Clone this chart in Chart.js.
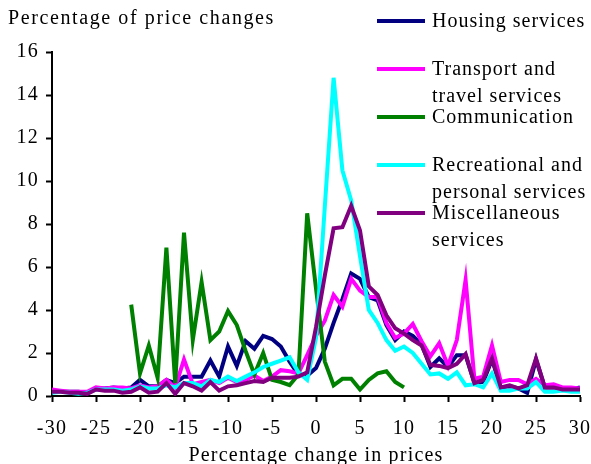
<!DOCTYPE html>
<html>
<head>
<meta charset="utf-8">
<script src="https://cdn.jsdelivr.net/npm/chart.js@4.4.0/dist/chart.umd.min.js"></script>
<style>
  html, body { margin: 0; padding: 0; background: #fff; }
  #wrap { position: relative; width: 591px; height: 464px; }
</style>
</head>
<body>
<div id="wrap"><canvas id="priceChart"></canvas></div>
<script>
// percentage change in prices (x axis)
const priceChange = [-30, -29, -28, -27, -26, -25, -24, -23, -22, -21, -20, -19, -18, -17, -16, -15, -14, -13, -12, -11,
  -10, -9, -8, -7, -6, -5, -4, -3, -2, -1, 0, 1, 2, 3, 4, 5, 6, 7, 8, 9,
  10, 11, 12, 13, 14, 15, 16, 17, 18, 19, 20, 21, 22, 23, 24, 25, 26, 27, 28, 29, 30]

const housing = [0.25, 0.2, 0.2, 0.2, 0.15, 0.35, 0.35, 0.4, 0.35, 0.4, 0.75, 0.45, 0.45, 0.75, 0.6, 0.9, 0.9, 0.9, 1.65, 0.9,
  2.3, 1.4, 2.55, 2.2, 2.8, 2.65, 2.3, 1.6, 1.0, 0.95, 1.3, 2.2, 3.4, 4.5, 5.7, 5.45, 4.6, 4.45, 3.3, 2.6,
  3.0, 2.8, 2.4, 1.35, 1.75, 1.35, 1.9, 1.9, 0.6, 0.65, 1.7, 0.4, 0.45, 0.35, 0.15, 1.7, 0.4, 0.4, 0.3, 0.3, 0.4]

const transport = [0.3, 0.25, 0.2, 0.2, 0.2, 0.4, 0.35, 0.4, 0.4, 0.35, 0.5, 0.4, 0.45, 0.75, 0.4, 1.7, 0.55, 0.65, 0.75, 0.6,
  0.85, 0.65, 0.75, 0.95, 0.7, 0.9, 1.2, 1.15, 1.05, 1.9, 2.8, 3.5, 4.7, 4.15, 5.45, 4.9, 4.6, 4.6, 3.4, 2.7,
  2.9, 3.35, 2.55, 1.85, 2.45, 1.4, 2.6, 5.4, 0.8, 0.9, 2.35, 0.65, 0.75, 0.75, 0.55, 0.8, 0.5, 0.55, 0.4, 0.4, 0.35]

const communication = [null, null, null, null, null, null, null, null, null, 4.25, 1.05, 2.35, 0.85, 6.9, 0.6, 7.6, 2.6, 5.3, 2.6, 3.0,
  3.95, 3.3, 2.1, 1.0, 2.0, 0.75, 0.65, 0.5, 1.0, 8.5, 5.0, 1.6, 0.5, 0.8, 0.8, 0.3, 0.75, 1.05, 1.15, 0.65,
  0.4, null, null, null, null, null, null, null, null, null, null, null, null, null, null, null, null, null, null, null, null]

const recreational = [0.15, 0.2, 0.15, 0.1, 0.15, 0.3, 0.3, 0.3, 0.25, 0.3, 0.45, 0.35, 0.35, 0.5, 0.4, 0.6, 0.6, 0.45, 0.75, 0.65,
  0.9, 0.7, 0.9, 1.1, 1.35, 1.5, 1.65, 1.8, 1.1, 0.75, 2.7, 8.8, 14.8, 10.5, 9.1, 6.5, 4.0, 3.4, 2.6, 2.1,
  2.3, 2.0, 1.5, 1.0, 1.05, 0.8, 1.1, 0.5, 0.55, 0.4, 1.05, 0.25, 0.25, 0.35, 0.35, 0.65, 0.2, 0.2, 0.25, 0.2, 0.2]

const misc = [0.2, 0.2, 0.15, 0.15, 0.1, 0.3, 0.25, 0.25, 0.15, 0.2, 0.4, 0.15, 0.2, 0.6, 0.1, 0.6, 0.45, 0.25, 0.65, 0.25,
  0.45, 0.5, 0.6, 0.7, 0.65, 0.85, 0.85, 0.85, 0.9, 1.1, 3.2, 5.6, 7.8, 7.85, 8.85, 7.7, 5.1, 4.7, 3.75, 3.15,
  2.9, 2.6, 2.35, 1.45, 1.4, 1.3, 1.5, 1.95, 0.6, 0.75, 1.75, 0.4, 0.5, 0.35, 0.5, 1.75, 0.4, 0.4, 0.3, 0.3, 0.3]

const seriesLabels = [
  ['Housing services'],
  ['Transport and', 'travel services'],
  ['Communication'],
  ['Recreational and', 'personal services'],
  ['Miscellaneous', 'services']
]
const seriesColors = ['#000080', '#ff00ff', '#008000', '#00ffff', '#800080']
const seriesValues = [housing, transport, communication, recreational, misc]

const yTitle = 'Percentage of price changes'
const xTitle = 'Percentage change in prices'

const FONT = '"Liberation Serif", "Times New Roman", serif'

function toPoints(vals) {
  return priceChange.map((x, i) => ({ x: x, y: vals[i] }))
}

const datasets = seriesValues.map((vals, i) => ({
  label: seriesLabels[i].join(' '),
  data: toPoints(vals),
  borderColor: seriesColors[i],
  backgroundColor: seriesColors[i],
  borderWidth: 4,
  pointRadius: 0,
  tension: 0,
  spanGaps: false,
  order: seriesValues.length - i
}))

// canvas state is reset on resize, so put the spacing back before layout and draw
const spacing = {
  id: 'spacing',
  beforeLayout(chart) { chart.ctx.letterSpacing = '1.2px' },
  beforeDraw(chart) { chart.ctx.letterSpacing = '1.2px' }
}

// y title on top and the legend with two-line labels
const legendBox = {
  id: 'legendBox',
  afterDraw(chart) {
    const ctx = chart.ctx
    ctx.save()
    ctx.font = '20px ' + FONT
    ctx.textBaseline = 'middle'
    ctx.textAlign = 'left'
    ctx.fillStyle = '#000'
    ctx.letterSpacing = '1.6px'
    ctx.fillText(yTitle, 8, 19)

    ctx.letterSpacing = '1px'
    let y = 21
    for (let i = 0; i < seriesLabels.length; i++) {
      ctx.strokeStyle = seriesColors[i]
      ctx.lineWidth = 4
      ctx.beginPath()
      ctx.moveTo(377, y)
      ctx.lineTo(425, y)
      ctx.stroke()
      ctx.fillStyle = '#000'
      seriesLabels[i].forEach((line, j) => {
        ctx.fillText(line, 432, y + 1 + j * 27)
      })
      y += 48
    }
    ctx.restore()
  }
}

const config = {
  type: 'line',
  data: { datasets: datasets },
  options: {
    responsive: true,
    maintainAspectRatio: false,
    animation: false,
    layout: { padding: { top: 52, right: 11, bottom: 0, left: 0 } },
    plugins: {
      legend: { display: false },
      title: { display: false },
      tooltip: { enabled: false }
    },
    scales: {
      x: {
        type: 'linear',
        min: -30,
        max: 30,
        ticks: {
          stepSize: 5,
          autoSkip: false,
          maxRotation: 0,
          padding: 17,
          color: '#000',
          font: { family: FONT, size: 20, lineHeight: 1 }
        },
        grid: { drawOnChartArea: false, drawTicks: true, tickLength: 6, tickColor: '#000', tickWidth: 2 },
        border: { display: true, color: '#000', width: 2 },
        title: {
          display: true,
          text: xTitle,
          color: '#000',
          font: { family: FONT, size: 20, lineHeight: 1 },
          padding: { top: 0, bottom: -2 }
        },
        afterFit(scale) {
          scale.height = 68
          scale.paddingLeft = 0
          scale.paddingRight = 0
        }
      },
      y: {
        min: 0,
        max: 16,
        ticks: {
          stepSize: 2,
          padding: 7,
          color: '#000',
          font: { family: FONT, size: 20, lineHeight: 1 }
        },
        grid: { drawOnChartArea: false, drawTicks: true, tickLength: 6, tickColor: '#000', tickWidth: 2 },
        border: { display: true, color: '#000', width: 2 },
        afterFit(scale) {
          scale.width = 52
          scale.paddingTop = 0
          scale.paddingBottom = 0
        }
      }
    }
  },
  plugins: [spacing, legendBox]
}

const priceChart = new Chart(document.getElementById('priceChart'), config)
</script>
</body>
</html>
